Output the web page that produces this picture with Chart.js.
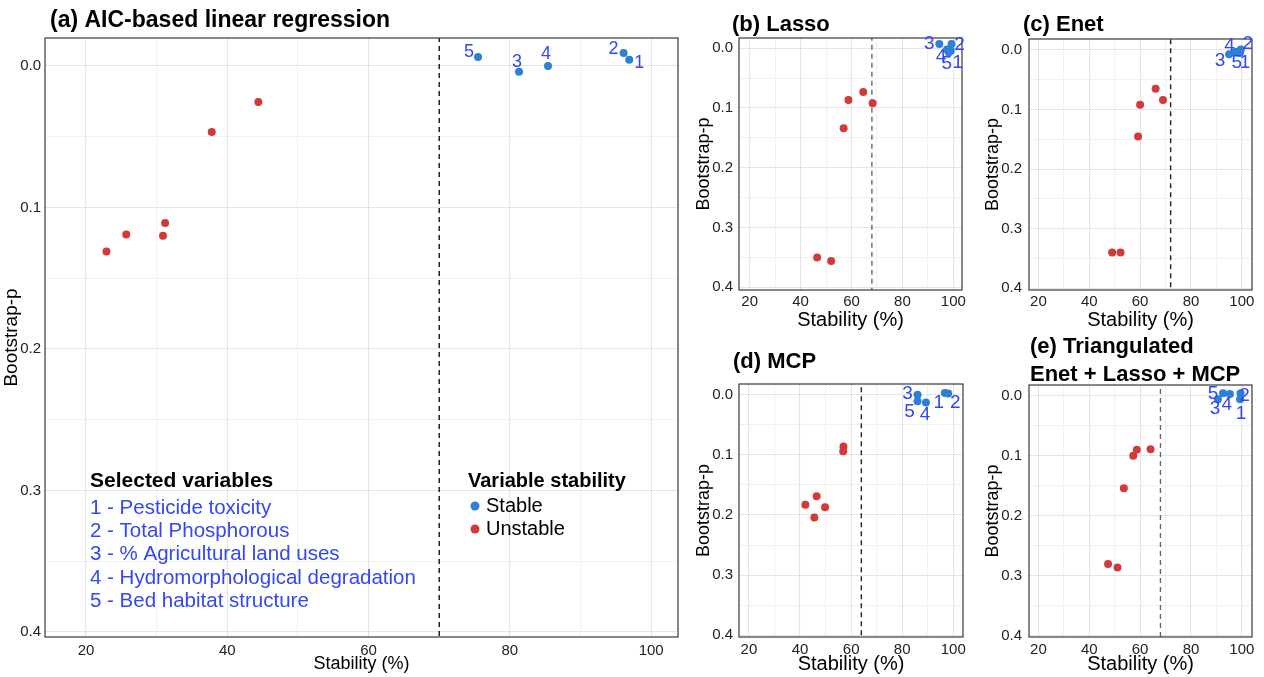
<!DOCTYPE html>
<html>
<head>
<meta charset="utf-8">
<script src="https://cdn.jsdelivr.net/npm/chart.js@4.4.0/dist/chart.umd.min.js"></script>
<style>
  body { margin: 0; background: #fff; }
  .panel { position: absolute; }
</style>
</head>
<body>
<div class="panel" style="left:0px;top:0px;width:690px;height:677px"><canvas id="chartA"></canvas></div>
<div class="panel" style="left:690px;top:0px;width:285px;height:330px"><canvas id="chartB"></canvas></div>
<div class="panel" style="left:975px;top:0px;width:289px;height:330px"><canvas id="chartC"></canvas></div>
<div class="panel" style="left:690px;top:330px;width:285px;height:347px"><canvas id="chartD"></canvas></div>
<div class="panel" style="left:975px;top:330px;width:289px;height:347px"><canvas id="chartE"></canvas></div>
<script>
// ---- data ----
const varNumbers = ['1', '2', '3', '4', '5'];
const varNames = ['Pesticide toxicity', 'Total Phosphorous', '% Agricultural land uses',
  'Hydromorphological degradation', 'Bed habitat structure'];
const stabilityGroups = ['Stable', 'Unstable'];

const xTicks = [20, 40, 60, 80, 100];
const xTickLabels = ['20', '40', '60', '80', '100'];
const yTicks = [0, 0.1, 0.2, 0.3, 0.4];
const yTickLabels = ['0.0', '0.1', '0.2', '0.3', '0.4'];

// (a) AIC-based linear regression (stable points in variable order 1..5)
const aicStableX = [96.9, 96.1, 81.3, 85.4, 75.5];
const aicStableY = [-0.0045, -0.0092, 0.004, 0.0, -0.0064];
const aicUnstableX = [44.4, 37.8, 31.2, 30.9, 25.7, 22.9];
const aicUnstableY = [0.0255, 0.0466, 0.111, 0.120, 0.119, 0.131];
const aicThreshold = 70;

// (b) Lasso
const lassoStableX = [99.0, 99.3, 94.5, 97.5, 98.2];
const lassoStableY = [0.004, -0.007, -0.007, 0.002, 0.007];
const lassoUnstableX = [64.6, 58.8, 68.3, 56.9, 46.5, 52.0];
const lassoUnstableY = [0.073, 0.0865, 0.092, 0.134, 0.350, 0.356];
const lassoThreshold = 68;

// (c) Enet
const enetStableX = [99.3, 99.6, 95.0, 97.5, 98.4];
const enetStableY = [0.005, -0.001, 0.007, 0.003, 0.003];
const enetUnstableX = [66.1, 69.0, 60.0, 59.2, 49.0, 52.3];
const enetUnstableY = [0.065, 0.084, 0.092, 0.145, 0.340, 0.340];
const enetThreshold = 72;

// (d) MCP
const mcpStableX = [96.7, 98.0, 86.0, 89.3, 86.0];
const mcpStableY = [-0.003, -0.002, 0.0, 0.013, 0.011];
const mcpUnstableX = [57.0, 56.9, 46.5, 42.1, 49.8, 45.6];
const mcpUnstableY = [0.086, 0.094, 0.169, 0.183, 0.187, 0.204];
const mcpThreshold = 64;

// (e) Triangulated Enet + Lasso + MCP
const triStableX = [99.3, 99.5, 90.6, 95.3, 92.6];
const triStableY = [0.006, -0.004, 0.006, -0.003, -0.004];
const triUnstableX = [64.1, 58.7, 57.3, 53.6, 47.4, 51.1];
const triUnstableY = [0.089, 0.090, 0.100, 0.154, 0.280, 0.286];
const triThreshold = 68;

// ---- styles ----
const blue = '#2c80d6';
const red = '#d23a3a';
const labelBlue = '#3347f2';
const majorGrid = '#e4e4e4';
const minorGrid = '#f1f1f1';
const frameColor = '#3a3a3a';
const tickColor = '#222';
const sans = "'Liberation Sans', Arial, sans-serif";

const panels = [
  { id: 'chartA', left: 0, top: 0,
    title: ['(a) AIC-based linear regression'], titleX: 50, titleY: [21], titleFont: 'bold 23px ' + sans,
    sx: aicStableX, sy: aicStableY, ux: aicUnstableX, uy: aicUnstableY, threshold: aicThreshold, dash: '#111',
    xMin: 14.2, xMax: 103.8, yMin: -0.0198, yMax: 0.4035,
    padTop: 38, padRight: 12, yAxisW: 45, xAxisH: 40,
    xTickPad: 5, xTitleSize: 18, xTitlePad: 4, yTitleSize: 19, yTitlePad: 0.5, yTickPad: 4,
    labelFont: '18px ' + sans,
    dx: [10, -10, -2, -2, -9], dy: [3, -4, -10, -12, -5],
    legend: true },
  { id: 'chartB', left: 690, top: 0,
    title: ['(b) Lasso'], titleX: 732, titleY: [25], titleFont: 'bold 22px ' + sans,
    sx: lassoStableX, sy: lassoStableY, ux: lassoUnstableX, uy: lassoUnstableY, threshold: lassoThreshold, dash: '#666',
    xMin: 15.8, xMax: 103.4, yMin: -0.0172, yMax: 0.4045,
    padTop: 38, padRight: 13, yAxisW: 49, xAxisH: 40,
    xTickPad: 3, xTitleSize: 20, xTitlePad: 0, yTitleSize: 18, yTitlePad: 3.5, yTickPad: 6,
    labelFont: '19px ' + sans,
    dx: [7, 8, -10, -6, -2], dy: [12, 1, 0, 7, 11] },
  { id: 'chartC', left: 975, top: 0,
    title: ['(c) Enet'], titleX: 1023, titleY: [25], titleFont: 'bold 22px ' + sans,
    sx: enetStableX, sy: enetStableY, ux: enetUnstableX, uy: enetUnstableY, threshold: enetThreshold, dash: '#222',
    xMin: 16.3, xMax: 104.0, yMin: -0.0185, yMax: 0.4028,
    padTop: 39, padRight: 12, yAxisW: 54, xAxisH: 40,
    xTickPad: 3, xTitleSize: 20, xTitlePad: 0, yTitleSize: 18, yTitlePad: 7, yTickPad: 7,
    labelFont: '19px ' + sans,
    dx: [5, 7, -9, -6, -1], dy: [10, -6, 7, -6, 11] },
  { id: 'chartD', left: 690, top: 330,
    title: ['(d) MCP'], titleX: 733, titleY: [362], titleFont: 'bold 22px ' + sans,
    sx: mcpStableX, sy: mcpStableY, ux: mcpUnstableX, uy: mcpUnstableY, threshold: mcpThreshold, dash: '#222',
    xMin: 16.1, xMax: 103.8, yMin: -0.0178, yMax: 0.4028,
    padTop: 54, padRight: 12, yAxisW: 49, xAxisH: 40,
    xTickPad: 4, xTitleSize: 20, xTitlePad: 3, yTitleSize: 18, yTitlePad: 3.5, yTickPad: 6,
    labelFont: '19px ' + sans,
    dx: [-6, 7, -10, -1, -8], dy: [10, 9, -1, 12, 10] },
  { id: 'chartE', left: 975, top: 330,
    title: ['(e) Triangulated', 'Enet + Lasso + MCP'], titleX: 1030, titleY: [347, 375], titleFont: 'bold 22px ' + sans,
    sx: triStableX, sy: triStableY, ux: triUnstableX, uy: triUnstableY, threshold: triThreshold, dash: '#666',
    xMin: 16.3, xMax: 104.0, yMin: -0.0178, yMax: 0.4017,
    padTop: 55, padRight: 12, yAxisW: 54, xAxisH: 40,
    xTickPad: 4, xTitleSize: 20, xTitlePad: 3, yTitleSize: 18, yTitlePad: 7, yTickPad: 7,
    labelFont: '19px ' + sans,
    dx: [1, 4, -3, -3, -10], dy: [14, 2, 9, 11, 0] }
];

function pts(xs, ys) {
  return xs.map((x, i) => ({ x: x, y: ys[i] }));
}

function xLabel(v) {
  const i = xTicks.indexOf(Math.round(v));
  return (i >= 0 && Math.abs(v - xTicks[i]) < 1e-6) ? xTickLabels[i] : '';
}
function yLabel(v) {
  const i = yTicks.findIndex(t => Math.abs(t - v) < 1e-6);
  return i >= 0 ? yTickLabels[i] : '';
}
function gridX(c) {
  return (c.tick && xLabel(c.tick.value) !== '') ? majorGrid : minorGrid;
}
function gridY(c) {
  return (c.tick && yLabel(c.tick.value) !== '') ? majorGrid : minorGrid;
}

function extras(p) {
  return {
    id: 'extras' + p.id,
    afterDatasetsDraw(chart) {
      const ctx = chart.ctx;
      const a = chart.chartArea;
      ctx.save();
      ctx.strokeStyle = frameColor;
      ctx.lineWidth = 1.2;
      ctx.strokeRect(a.left, a.top, a.right - a.left, a.bottom - a.top);

      // numbered labels next to the stable points
      const meta = chart.getDatasetMeta(1);
      ctx.fillStyle = labelBlue;
      ctx.font = p.labelFont;
      ctx.textAlign = 'center';
      ctx.textBaseline = 'middle';
      meta.data.forEach((el, i) => {
        ctx.fillText(varNumbers[i], el.x + p.dx[i], el.y + p.dy[i]);
      });

      // panel title
      ctx.fillStyle = '#000';
      ctx.font = p.titleFont;
      ctx.textAlign = 'left';
      p.title.forEach((t, i) => ctx.fillText(t, p.titleX - p.left, p.titleY[i] - p.top));

      if (p.legend) {
        ctx.font = 'bold 21px ' + sans;
        ctx.fillText('Selected variables', 90, 481);
        ctx.fillStyle = labelBlue;
        ctx.font = '20.5px ' + sans;
        varNames.forEach((n, i) => ctx.fillText(varNumbers[i] + ' - ' + n, 90, 508 + i * 23.3));

        ctx.fillStyle = '#000';
        ctx.font = 'bold 20px ' + sans;
        ctx.fillText('Variable stability', 468, 481);
        ctx.font = '20px ' + sans;
        [blue, red].forEach((col, i) => {
          ctx.fillStyle = col;
          ctx.beginPath();
          ctx.arc(475, 506 + i * 23, 4.5, 0, Math.PI * 2);
          ctx.fill();
          ctx.fillStyle = '#000';
          ctx.fillText(stabilityGroups[i], 486, 506 + i * 23);
        });
      }
      ctx.restore();
    }
  };
}

panels.forEach(p => {
  new Chart(document.getElementById(p.id), {
    type: 'scatter',
    data: {
      datasets: [
        { label: 'Unstable', data: pts(p.ux, p.uy), backgroundColor: red, pointRadius: 4,
          pointHoverRadius: 4, borderWidth: 0 },
        { label: 'Stable', data: pts(p.sx, p.sy), backgroundColor: blue, pointRadius: 4,
          pointHoverRadius: 4, borderWidth: 0 },
        { label: 'threshold', data: [{ x: p.threshold, y: -1 }, { x: p.threshold, y: 1 }],
          showLine: true, borderColor: p.dash, borderWidth: 1.4, borderDash: [5, 4], pointRadius: 0 }
      ]
    },
    options: {
      responsive: true,
      maintainAspectRatio: false,
      animation: false,
      layout: { padding: { top: p.padTop, right: p.padRight, left: 0, bottom: 0 } },
      plugins: { legend: { display: false }, tooltip: { enabled: false }, title: { display: false } },
      scales: {
        x: {
          type: 'linear', min: p.xMin, max: p.xMax,
          ticks: { stepSize: 10, includeBounds: false, autoSkip: false, maxRotation: 0,
            padding: p.xTickPad, color: tickColor, font: { family: sans, size: 15 }, callback: xLabel },
          grid: { color: gridX, lineWidth: 1.1, drawTicks: false },
          border: { display: false },
          title: { display: true, text: 'Stability (%)', color: '#000',
            font: { family: sans, size: p.xTitleSize, lineHeight: 1 },
            padding: { top: 0, bottom: p.xTitlePad } },
          afterFit: s => { s.height = p.xAxisH; }
        },
        y: {
          type: 'linear', reverse: true, min: p.yMin, max: p.yMax,
          ticks: { stepSize: 0.05, includeBounds: false, autoSkip: false,
            padding: p.yTickPad, color: tickColor, font: { family: sans, size: 15 }, callback: yLabel },
          grid: { color: gridY, lineWidth: 1.1, drawTicks: false },
          border: { display: false },
          title: { display: true, text: 'Bootstrap-p', color: '#000',
            font: { family: sans, size: p.yTitleSize, lineHeight: 1.2 },
            padding: { top: p.yTitlePad, bottom: 0 } },
          afterFit: s => { s.width = p.yAxisW; }
        }
      }
    },
    plugins: [extras(p)]
  });
});
</script>
</body>
</html>
